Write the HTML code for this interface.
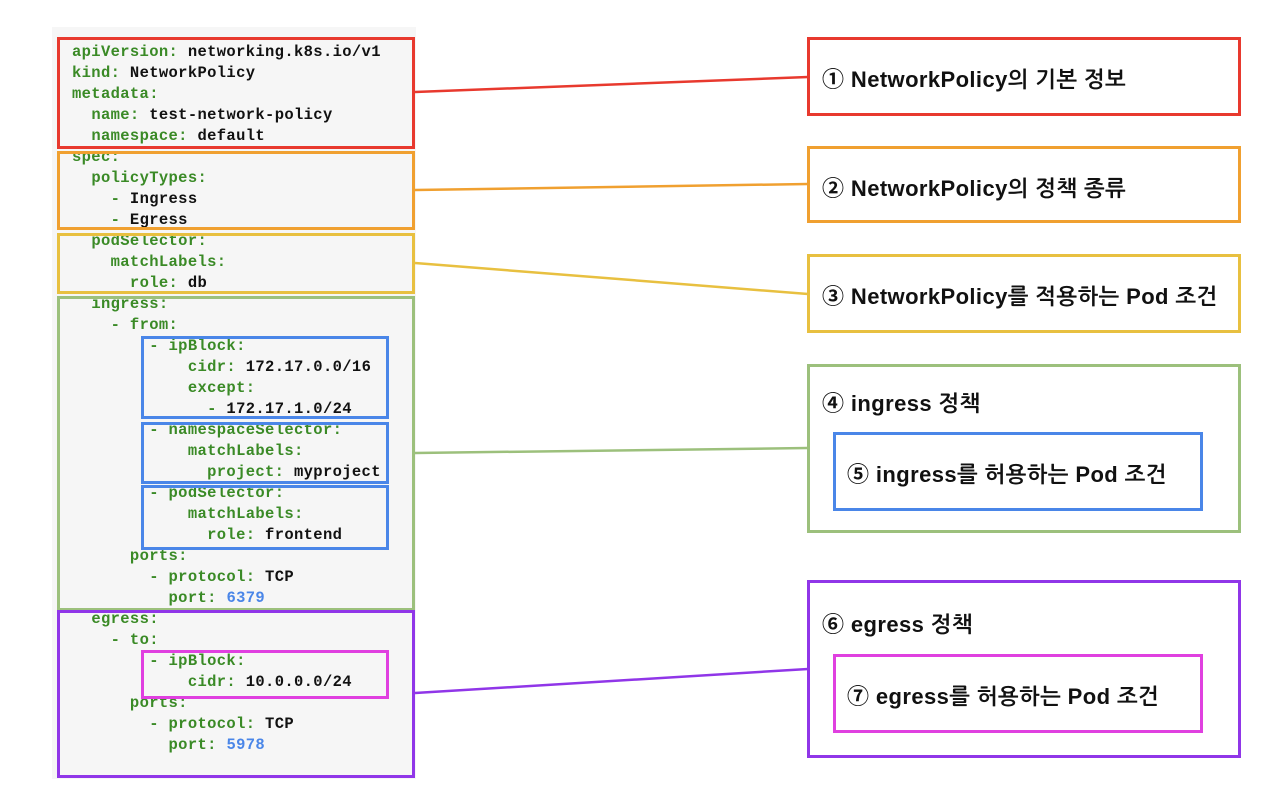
<!DOCTYPE html>
<html><head><meta charset="utf-8"><style>
body{margin:0;width:1264px;height:792px;background:#fff;position:relative;overflow:hidden}
.bg{position:absolute;left:52px;top:27px;width:364px;height:752px;background:#f6f6f6}
pre{position:absolute;left:72px;top:42px;margin:0;font:bold 15.5px/21px "Liberation Mono",monospace;color:#111;letter-spacing:0.35px}
.k{color:#3a8a26}.n{color:#4a86e8}
.b{position:absolute;box-sizing:border-box;border:3px solid}
.t{position:absolute;font:bold 22px "Liberation Sans","NanumGothic","Noto Sans CJK KR",sans-serif;color:#111;white-space:nowrap;letter-spacing:0.4px}
svg{position:absolute;left:0;top:0}
</style></head><body>
<div class="bg"></div>
<pre><span class="k">apiVersion:</span> networking.k8s.io/v1
<span class="k">kind:</span> NetworkPolicy
<span class="k">metadata:</span>
  <span class="k">name:</span> test-network-policy
  <span class="k">namespace:</span> default
<span class="k">spec:</span>
  <span class="k">policyTypes:</span>
    <span class="k">-</span> Ingress
    <span class="k">-</span> Egress
  <span class="k">podSelector:</span>
    <span class="k">matchLabels:</span>
      <span class="k">role:</span> db
  <span class="k">ingress:</span>
    <span class="k">- from:</span>
        <span class="k">- ipBlock:</span>
            <span class="k">cidr:</span> 172.17.0.0/16
            <span class="k">except:</span>
              <span class="k">-</span> 172.17.1.0/24
        <span class="k">- namespaceSelector:</span>
            <span class="k">matchLabels:</span>
              <span class="k">project:</span> myproject
        <span class="k">- podSelector:</span>
            <span class="k">matchLabels:</span>
              <span class="k">role:</span> frontend
      <span class="k">ports:</span>
        <span class="k">- protocol:</span> TCP
          <span class="k">port:</span> <span class="n">6379</span>
  <span class="k">egress:</span>
    <span class="k">- to:</span>
        <span class="k">- ipBlock:</span>
            <span class="k">cidr:</span> 10.0.0.0/24
      <span class="k">ports:</span>
        <span class="k">- protocol:</span> TCP
          <span class="k">port:</span> <span class="n">5978</span></pre>
<div class="b" style="left:57px;top:37px;width:358px;height:112px;border-color:#e8392e"></div>
<div class="b" style="left:57px;top:151px;width:358px;height:79px;border-color:#f0a030"></div>
<div class="b" style="left:57px;top:233px;width:358px;height:61px;border-color:#e8c040"></div>
<div class="b" style="left:57px;top:296px;width:358px;height:315px;border-color:#9cc07c"></div>
<div class="b" style="left:57px;top:610px;width:358px;height:168px;border-color:#9036e8"></div>
<div class="b" style="left:141px;top:336px;width:248px;height:83px;border-color:#4a86e8"></div>
<div class="b" style="left:141px;top:422px;width:248px;height:62px;border-color:#4a86e8"></div>
<div class="b" style="left:141px;top:485px;width:248px;height:65px;border-color:#4a86e8"></div>
<div class="b" style="left:141px;top:650px;width:248px;height:49px;border-color:#e040e0"></div>

<svg width="1264" height="792"><g stroke-width="2.5" fill="none">
<line x1="415" y1="92" x2="808" y2="77" stroke="#e8392e"/>
<line x1="415" y1="190" x2="808" y2="184" stroke="#f0a030"/>
<line x1="415" y1="263" x2="808" y2="294" stroke="#e8c040"/>
<line x1="415" y1="453" x2="808" y2="448" stroke="#9cc07c"/>
<line x1="415" y1="693" x2="808" y2="669" stroke="#9036e8"/>
</g></svg>

<div class="b" style="left:807px;top:37px;width:434px;height:79px;border-color:#e8392e"></div>
<div class="t" style="left:822px;top:62px">① NetworkPolicy의 기본 정보</div>
<div class="b" style="left:807px;top:146px;width:434px;height:77px;border-color:#f0a030"></div>
<div class="t" style="left:822px;top:171px">② NetworkPolicy의 정책 종류</div>
<div class="b" style="left:807px;top:254px;width:434px;height:79px;border-color:#e8c040"></div>
<div class="t" style="left:822px;top:279px">③ NetworkPolicy를 적용하는 Pod 조건</div>
<div class="b" style="left:807px;top:364px;width:434px;height:169px;border-color:#9cc07c"></div>
<div class="t" style="left:822px;top:386px">④ ingress 정책</div>
<div class="b" style="left:833px;top:432px;width:370px;height:79px;border-color:#4a86e8"></div>
<div class="t" style="left:847px;top:457px">⑤ ingress를 허용하는 Pod 조건</div>
<div class="b" style="left:807px;top:580px;width:434px;height:178px;border-color:#9036e8"></div>
<div class="t" style="left:822px;top:607px">⑥ egress 정책</div>
<div class="b" style="left:833px;top:654px;width:370px;height:79px;border-color:#e040e0"></div>
<div class="t" style="left:847px;top:679px">⑦ egress를 허용하는 Pod 조건</div>
</body></html>
